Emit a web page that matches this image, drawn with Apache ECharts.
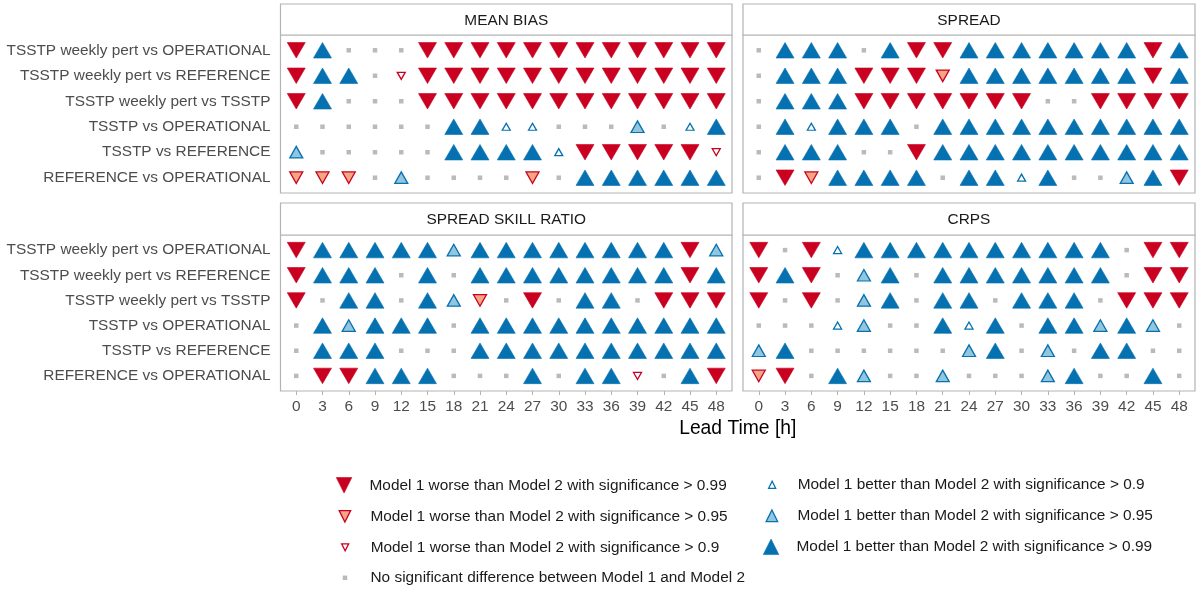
<!DOCTYPE html>
<html>
<head>
<meta charset="utf-8">
<script src="https://cdn.jsdelivr.net/npm/echarts@6/dist/echarts.min.js"></script>
<style>
html,body{margin:0;padding:0;background:#fff;}
#chart{width:1200px;height:592px;}
</style>
</head>
<body>
<div id="chart"></div>
<script>
// ---------------- DATA ----------------
const leadTimes = [0, 3, 6, 9, 12, 15, 18, 21, 24, 27, 30, 33, 36, 39, 42, 45, 48];
const comparisons = [
  'TSSTP weekly pert vs OPERATIONAL',
  'TSSTP weekly pert vs REFERENCE',
  'TSSTP weekly pert vs TSSTP',
  'TSSTP vs OPERATIONAL',
  'TSSTP vs REFERENCE',
  'REFERENCE vs OPERATIONAL'
];
const panelTitles = ['MEAN BIAS', 'SPREAD', 'SPREAD SKILL RATIO', 'CRPS'];
// significance levels: -3 worse >0.99, -2 worse >0.95, -1 worse >0.9, 0 none, 1 better >0.9, 2 better >0.95, 3 better >0.99
const levels = [-3, -2, -1, 0, 1, 2, 3];
const levelLabels = {
  '-3': 'Model 1 worse than Model 2 with significance > 0.99',
  '-2': 'Model 1 worse than Model 2 with significance > 0.95',
  '-1': 'Model 1 worse than Model 2 with significance > 0.9',
  '0': 'No significant difference between Model 1 and Model 2',
  '1': 'Model 1 better than Model 2 with significance > 0.9',
  '2': 'Model 1 better than Model 2 with significance > 0.95',
  '3': 'Model 1 better than Model 2 with significance > 0.99'
};
const meanBias = [
  [-3, 3, 0, 0, 0, -3, -3, -3, -3, -3, -3, -3, -3, -3, -3, -3, -3],
  [-3, 3, 3, 0, -1, -3, -3, -3, -3, -3, -3, -3, -3, -3, -3, -3, -3],
  [-3, 3, 0, 0, 0, -3, -3, -3, -3, -3, -3, -3, -3, -3, -3, -3, -3],
  [0, 0, 0, 0, 0, 0, 3, 3, 1, 1, 0, 0, 0, 2, 0, 1, 3],
  [2, 0, 0, 0, 0, 0, 3, 3, 3, 3, 1, -3, -3, -3, -3, -3, -1],
  [-2, -2, -2, 0, 2, 0, 0, 0, 0, -2, 0, 3, 3, 3, 3, 3, 3]
];
const spread = [
  [0, 3, 3, 3, 0, 3, -3, -3, 3, 3, 3, 3, 3, 3, 3, -3, 3],
  [0, 3, 3, 3, -3, -3, -3, -2, 3, 3, 3, 3, 3, 3, 3, -3, 3],
  [0, 3, 3, 3, -3, -3, -3, -3, -3, -3, -3, 0, 0, -3, -3, -3, -3],
  [0, 3, 1, 3, 3, 3, 0, 3, 3, 3, 3, 3, 3, 3, 3, 3, 3],
  [0, 3, 3, 3, 0, 0, -3, 3, 3, 3, 3, 3, 3, 3, 3, 3, 3],
  [0, -3, -2, 3, 3, 3, 3, 0, 3, 3, 1, 3, 0, 0, 2, 3, -3]
];
const spreadSkillRatio = [
  [-3, 3, 3, 3, 3, 3, 2, 3, 3, 3, 3, 3, 3, 3, 3, -3, 2],
  [-3, 3, 3, 3, 0, 3, 0, 3, 3, 3, 3, 3, 3, 3, 3, -3, 3],
  [-3, 0, 3, 3, 0, 3, 2, -2, 0, -3, 0, 3, 3, 0, -3, -3, -3],
  [0, 3, 2, 3, 3, 3, 0, 3, 3, 3, 3, 3, 3, 3, 3, 3, 3],
  [0, 3, 3, 3, 0, 0, 0, 3, 3, 3, 3, 3, 3, 3, 3, 3, 3],
  [0, -3, -3, 3, 3, 3, 0, 0, 0, 3, 0, 3, 3, -1, 0, 3, -3]
];
const crps = [
  [-3, 0, -3, 1, 3, 3, 3, 3, 3, 3, 3, 3, 3, 3, 0, -3, -3],
  [-3, 3, -3, 0, 2, 3, 0, 3, 3, 3, 3, 3, 3, 3, 0, -3, -3],
  [-3, 0, -3, 0, 2, 3, 0, 3, 3, 0, 3, 3, 3, 0, -3, -3, -3],
  [0, 0, 0, 1, 2, 0, 0, 3, 1, 3, 0, 3, 3, 2, 3, 2, 0],
  [2, 3, 0, 0, 0, 0, 0, 0, 2, 3, 0, 2, 0, 3, 3, 0, 0],
  [-2, -3, 0, 3, 2, 0, 0, 2, 0, 0, 0, 2, 3, 0, 0, 3, 0]
];
const panelData = [meanBias, spread, spreadSkillRatio, crps];

// ---------------- STYLE / LAYOUT ----------------
const FONT = "'Liberation Sans', Arial, Helvetica, sans-serif";
const FS = 15.4;
const UP = 'path://M0,10L5,0L10,10Z';
const DOWN = 'path://M0,0L10,0L5,10Z';
const RED = '#CA0020', SALMON = '#F4A582', BLUE = '#0571B0', LBLUE = '#92C5DE', GREY = '#BABABA';
const levelStyle = {
  '-3': {symbol: DOWN, size: [18, 15.5], fill: RED, stroke: RED, lw: 0.6},
  '-2': {symbol: DOWN, size: [13, 11.5], fill: SALMON, stroke: RED, lw: 1.3},
  '-1': {symbol: DOWN, size: [8, 7], fill: '#ffffff', stroke: RED, lw: 1.3},
  '0':  {symbol: 'rect', size: [4.5, 4.5], fill: GREY, stroke: GREY, lw: 0},
  '1':  {symbol: UP, size: [8, 7], fill: '#ffffff', stroke: BLUE, lw: 1.3},
  '2':  {symbol: UP, size: [13, 11.5], fill: LBLUE, stroke: BLUE, lw: 1.3},
  '3':  {symbol: UP, size: [18, 15.5], fill: BLUE, stroke: BLUE, lw: 0.6}
};
const BORDER = '#b3b3b3';
const panels = [
  {left: 280.5, top: 35, width: 451.5, height: 158, stripTop: 4, showX: false, showY: true},
  {left: 743, top: 35, width: 452, height: 158, stripTop: 4, showX: false, showY: false},
  {left: 280.5, top: 235, width: 451.5, height: 156, stripTop: 203, showX: true, showY: true},
  {left: 743, top: 235, width: 452, height: 156, stripTop: 203, showX: true, showY: false}
];
const rowIdx = comparisons.map((_, i) => i);

const grids = [], xAxes = [], yAxes = [], series = [], graphics = [];
panels.forEach((p, gi) => {
  grids.push({left: p.left, top: p.top, width: p.width, height: p.height, show: true,
    borderColor: BORDER, borderWidth: 1.2, backgroundColor: 'transparent',
    containLabel: false, outerBoundsMode: 'none'});
  xAxes.push({type: 'value', gridIndex: gi, min: -1.8, max: 49.8, position: 'bottom',
    splitLine: {show: false}, axisLine: {show: false, onZero: false},
    axisTick: {show: p.showX, customValues: leadTimes, length: 4, lineStyle: {color: BORDER, width: 1}},
    axisLabel: {show: p.showX, customValues: leadTimes, margin: 8, fontSize: FS, color: '#4d4d4d', fontFamily: FONT}});
  yAxes.push({type: 'value', gridIndex: gi, inverse: true, min: -0.6, max: 5.6, position: 'left',
    splitLine: {show: false}, axisLine: {show: false, onZero: false},
    axisTick: {show: false},
    axisLabel: {show: p.showY, customValues: rowIdx, margin: 10, fontSize: FS, color: '#4d4d4d', fontFamily: FONT,
      formatter: v => comparisons[Math.round(v)]}});
  levels.forEach(lv => {
    const st = levelStyle[lv];
    const data = [];
    panelData[gi].forEach((row, r) => row.forEach((v, c) => { if (v === lv) data.push([leadTimes[c], r]); }));
    series.push({type: 'scatter', name: levelLabels[lv], xAxisIndex: gi, yAxisIndex: gi,
      symbol: st.symbol, symbolSize: st.size, silent: true, animation: false,
      itemStyle: {color: st.fill, borderColor: st.stroke, borderWidth: st.lw, opacity: 1},
      emphasis: {disabled: true}, data});
  });
  // strip header
  graphics.push({type: 'rect', silent: true, z: 10,
    shape: {x: p.left, y: p.stripTop, width: p.width, height: p.top - p.stripTop},
    style: {fill: '#ffffff', stroke: BORDER, lineWidth: 1.2}});
  graphics.push({type: 'text', silent: true, z: 11,
    x: p.left + p.width / 2, y: (p.stripTop + p.top) / 2 + 1,
    style: {text: panelTitles[gi], fontSize: FS, fontFamily: FONT, fill: '#1a1a1a', align: 'center', verticalAlign: 'middle'}});
});
graphics.push({type: 'text', silent: true,
  x: (panels[2].left + panels[3].left + panels[3].width) / 2, y: 429,
  style: {text: 'Lead Time [h]', fontSize: 19.3, fontFamily: FONT, fill: '#000000', align: 'center', verticalAlign: 'middle'}});

// legend layout (one legend component per key)
const legendPos = [
  {lv: -3, cx: 345, cy: 485, tx: 370.5}, {lv: -2, cx: 345, cy: 516.5, tx: 370.5},
  {lv: -1, cx: 345, cy: 547.5, tx: 370.5}, {lv: 0, cx: 345, cy: 578, tx: 370.5},
  {lv: 1, cx: 772, cy: 485, tx: 797.5}, {lv: 2, cx: 772, cy: 516, tx: 797.5},
  {lv: 3, cx: 772, cy: 546.5, tx: 797.5}
];
const legends = legendPos.map(lp => {
  const st = levelStyle[lp.lv];
  const w = st.size[0], h = st.size[1];
  return {data: [levelLabels[lp.lv]], orient: 'vertical', padding: 0, selectedMode: false,
    left: lp.cx - w / 2, top: lp.cy - Math.max(h, FS) / 2,
    itemWidth: w, itemHeight: h, icon: st.symbol,
    itemStyle: {color: st.fill, borderColor: st.stroke, borderWidth: st.lw, opacity: 1},
    textStyle: {fontSize: FS, fontFamily: FONT, color: '#1a1a1a', padding: [0, 0, 0, lp.tx - (lp.cx + w / 2 + 5)]}};
});

const chart = echarts.init(document.getElementById('chart'), null, {renderer: 'canvas'});
chart.setOption({
  backgroundColor: '#ffffff',
  animation: false,
  grid: grids, xAxis: xAxes, yAxis: yAxes,
  legend: legends,
  series: series,
  graphic: graphics
});
</script>
</body>
</html>
